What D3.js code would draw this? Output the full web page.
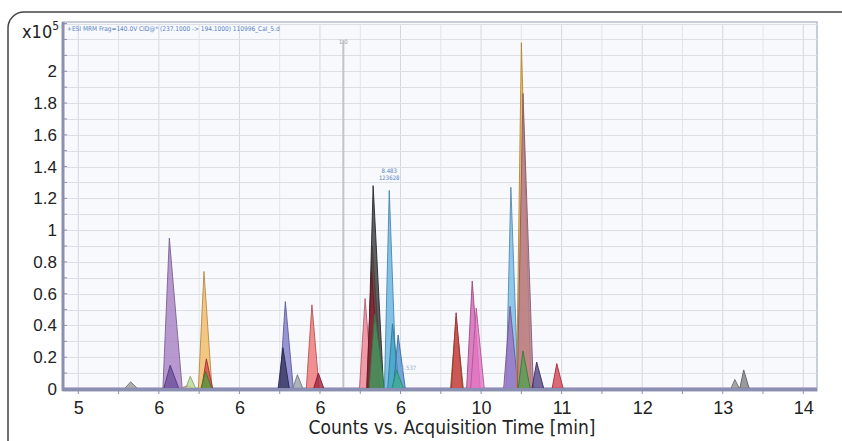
<!DOCTYPE html>
<html>
<head>
<meta charset="utf-8">
<script src="https://cdn.jsdelivr.net/npm/d3@7"></script>
<style>
  html, body { margin: 0; padding: 0; background: #fff; }
  svg { display: block; font-family: "Liberation Sans Narrow", "DejaVu Sans Condensed", "Liberation Sans", sans-serif; }
</style>
</head>
<body>
<div id="chart"></div>
<script>
// x axis ticks (labels as printed on the original)
var xTickValues = [5, 6, 7, 8, 9, 10, 11, 12, 13, 14];
var xTickLabels = ["5", "6", "6", "6", "6", "10", "11", "12", "13", "14"];
var yTickValues = [0, 0.2, 0.4, 0.6, 0.8, 1, 1.2, 1.4, 1.6, 1.8, 2];
var yTickLabels = ["0", "0.2", "0.4", "0.6", "0.8", "1", "1.2", "1.4", "1.6", "1.8", "2"];

// peaks: retention time at apex, height (x10^5), start and end time
var peakApex   = [5.65, 6.13, 6.14, 6.35, 6.39, 6.56, 6.59, 6.58, 7.57, 7.54, 7.72, 7.90, 7.98,
                  8.56, 8.65, 8.66, 8.64, 8.68, 8.86, 8.90, 8.97, 8.95, 9.69, 9.69, 9.89, 9.94,
                  10.37, 10.36, 10.50, 10.52, 10.52, 10.69, 10.94, 13.15, 13.26];
var peakHeight = [0.045, 0.95, 0.15, 0.02, 0.08, 0.74, 0.19, 0.11, 0.55, 0.26, 0.09, 0.53, 0.10,
                  0.57, 0.90, 1.28, 0.74, 0.47, 1.25, 0.41, 0.34, 0.12, 0.45, 0.48, 0.68, 0.51,
                  1.27, 0.52, 2.18, 1.86, 0.24, 0.17, 0.16, 0.06, 0.12];
var peakStart  = [5.57, 6.05, 6.06, 6.25, 6.33, 6.49, 6.53, 6.52, 7.50, 7.48, 7.66, 7.83, 7.92,
                  8.49, 8.58, 8.59, 8.58, 8.61, 8.80, 8.84, 8.91, 8.89, 9.62, 9.63, 9.82, 9.87,
                  10.31, 10.28, 10.44, 10.45, 10.46, 10.63, 10.88, 13.10, 13.21];
var peakEnd    = [5.74, 6.29, 6.25, 6.46, 6.46, 6.66, 6.67, 6.66, 7.67, 7.62, 7.79, 7.99, 8.05,
                  8.65, 8.77, 8.79, 8.74, 8.80, 8.95, 8.99, 9.06, 9.04, 9.78, 9.77, 9.99, 10.04,
                  10.46, 10.46, 10.62, 10.65, 10.61, 10.78, 11.02, 13.21, 13.33];
var peakColor  = ["#9a9a9a", "#a57ec2", "#6a4c9c", "#e39ab8", "#b9d68e", "#f2b75e", "#d9404a", "#4f9f3e",
                  "#7d79c9", "#34345e", "#98a0a8", "#f06f6f", "#a3233f",
                  "#ef7f90", "#d98472", "#353535", "#8e2334", "#43a262", "#63b2e2", "#3ea3c2", "#4f8fd2", "#3fb08f",
                  "#a08f32", "#d3414f", "#d35fb2", "#e474c4",
                  "#72b9e8", "#9b70c2", "#f2b23f", "#b07690", "#4fa04f", "#503f82", "#d3414f", "#8f8f8f", "#7f7f7f"];

var markerTime = 8.29;

var W = 842, H = 441;
var margin = { top: 22, right: 25, bottom: 52, left: 63 };

var svg = d3.select("#chart").append("svg")
    .attr("width", W)
    .attr("height", H);

// outer rounded frame (right and bottom sides run off the picture)
svg.append("rect")
    .attr("x", 8).attr("y", 12)
    .attr("width", 1000).attr("height", 600)
    .attr("rx", 16)
    .attr("fill", "none")
    .attr("stroke", "#444")
    .attr("stroke-width", 1.5);

var x = d3.scaleLinear().domain([4.81, 14.17]).range([margin.left, W - margin.right]);
var y = d3.scaleLinear().domain([0, 2.31]).range([389, margin.top]);

// plot background
svg.append("rect")
    .attr("x", x.range()[0]).attr("y", margin.top)
    .attr("width", x.range()[1] - x.range()[0])
    .attr("height", 391 - margin.top)
    .attr("fill", "#f7f9fd")
    .attr("stroke", "#a9afc4")
    .attr("stroke-width", 1.2);

// grid
var grid = svg.append("g").attr("class", "grid");
grid.selectAll(".vgrid")
    .data(d3.range(5, 14.01, 0.5))
    .enter().append("line")
        .attr("x1", function(d) { return x(d); })
        .attr("x2", function(d) { return x(d); })
        .attr("y1", margin.top + 2)
        .attr("y2", 389)
        .attr("stroke", function(d, i) { return i % 2 ? "#e1e4e8" : "#d5d8de"; })
        .attr("stroke-width", 1);
grid.selectAll(".hgrid")
    .data(d3.range(0.1, 2.31, 0.1))
    .enter().append("line")
        .attr("x1", x.range()[0])
        .attr("x2", x.range()[1])
        .attr("y1", function(d) { return Math.round(y(d)) + 0.5; })
        .attr("y2", function(d) { return Math.round(y(d)) + 0.5; })
        .attr("stroke", "#dcdfe4")
        .attr("stroke-width", 1);

// header text
svg.append("text")
    .attr("x", 67).attr("y", 31)
    .attr("font-size", 6.5)
    .attr("fill", "#5b82c4")
    .text("+ESI MRM Frag=140.0V CID@* (237.1000 -> 194.1000) 110996_Cal_5.d");

// marker line
svg.append("line")
    .attr("x1", x(markerTime)).attr("x2", x(markerTime))
    .attr("y1", 40).attr("y2", 389)
    .attr("stroke", "#c4c4c4")
    .attr("stroke-width", 2);
svg.append("text")
    .attr("x", x(markerTime)).attr("y", 44)
    .attr("text-anchor", "middle")
    .attr("font-size", 6)
    .attr("fill", "#999")
    .text("1.0");

// baseline
svg.append("line")
    .attr("x1", x.range()[0]).attr("x2", x.range()[1])
    .attr("y1", y(0) - 1).attr("y2", y(0) - 1)
    .attr("stroke", "#b0a0c8")
    .attr("stroke-width", 1.5);

// peaks
var area = d3.area()
    .x(function(d) { return x(d[0]); })
    .y0(y(0))
    .y1(function(d) { return y(d[1]); });

var peaks = peakApex.map(function(t, i) {
    return { color: peakColor[i], pts: [[peakStart[i], 0], [t, peakHeight[i]], [peakEnd[i], 0]] };
});

svg.append("g").selectAll(".peak")
    .data(peaks)
    .enter().append("path")
        .attr("class", "peak")
        .attr("d", function(d) { return area(d.pts); })
        .attr("fill", function(d) { return d.color; })
        .attr("fill-opacity", 0.78)
        .attr("stroke", function(d) { return d3.color(d.color).darker(0.8); })
        .attr("stroke-width", 0.9)
        .attr("stroke-linejoin", "round");

// peak annotations
svg.append("text")
    .attr("x", x(8.86)).attr("y", 173)
    .attr("text-anchor", "middle")
    .attr("font-size", 6).attr("fill", "#5b82c4")
    .text("8.483");
svg.append("text")
    .attr("x", x(8.86)).attr("y", 180)
    .attr("text-anchor", "middle")
    .attr("font-size", 6).attr("fill", "#5b82c4")
    .text("123628");
svg.append("text")
    .attr("x", x(9.1)).attr("y", 370)
    .attr("text-anchor", "middle")
    .attr("font-size", 6).attr("fill", "#9ab0c8")
    .text("8.537");

// axes lines
svg.append("line")
    .attr("x1", x.range()[0] - 1).attr("x2", x.range()[1])
    .attr("y1", 389.5).attr("y2", 389.5)
    .attr("stroke", "#8b8fb2")
    .attr("stroke-width", 3);
svg.append("line")
    .attr("x1", x.range()[0]).attr("x2", x.range()[0])
    .attr("y1", margin.top).attr("y2", 391)
    .attr("stroke", "#8b8fb2")
    .attr("stroke-width", 3);

// x axis
var xAxis = svg.append("g")
    .attr("transform", "translate(0,391)")
    .call(d3.axisBottom(x)
        .tickValues(xTickValues)
        .tickSize(0)
        .tickPadding(10)
        .tickFormat(function(d, i) { return xTickLabels[i]; }));
xAxis.select(".domain").remove();
xAxis.selectAll("text")
    .attr("font-size", 18)
    .attr("font-family", null)
    .attr("fill", "#222");

svg.append("g").selectAll(".xminor")
    .data(d3.range(5, 14.01, 0.5))
    .enter().append("line")
        .attr("x1", function(d) { return x(d); })
        .attr("x2", function(d) { return x(d); })
        .attr("y1", 390).attr("y2", 394)
        .attr("stroke", "#8b8fb2")
        .attr("stroke-width", 1);

// y axis
var yAxis = svg.append("g")
    .attr("transform", "translate(" + (x.range()[0] - 2) + ",0)")
    .call(d3.axisLeft(y)
        .tickValues(yTickValues)
        .tickSize(0)
        .tickPadding(4)
        .tickFormat(function(d, i) { return yTickLabels[i]; }));
yAxis.select(".domain").remove();
yAxis.selectAll("text")
    .attr("font-size", 17)
    .attr("font-family", null)
    .attr("fill", "#222");

svg.append("g").selectAll(".yminor")
    .data(d3.range(0, 2.31, 0.1))
    .enter().append("line")
        .attr("x1", x.range()[0]).attr("x2", x.range()[0] + 4)
        .attr("y1", function(d) { return y(d); })
        .attr("y2", function(d) { return y(d); })
        .attr("stroke", "#8b8fb2")
        .attr("stroke-width", 1);

// y exponent
var exp = svg.append("text")
    .attr("x", 22).attr("y", 38)
    .attr("font-size", 18)
    .attr("fill", "#222")
    .text("x10");
exp.append("tspan")
    .attr("dy", -8)
    .attr("font-size", 12)
    .text("5");

// x title
svg.append("text")
    .attr("x", 452).attr("y", 434)
    .attr("text-anchor", "middle")
    .attr("font-size", 19)
    .attr("fill", "#222")
    .text("Counts vs. Acquisition Time [min]");
</script>
</body>
</html>
